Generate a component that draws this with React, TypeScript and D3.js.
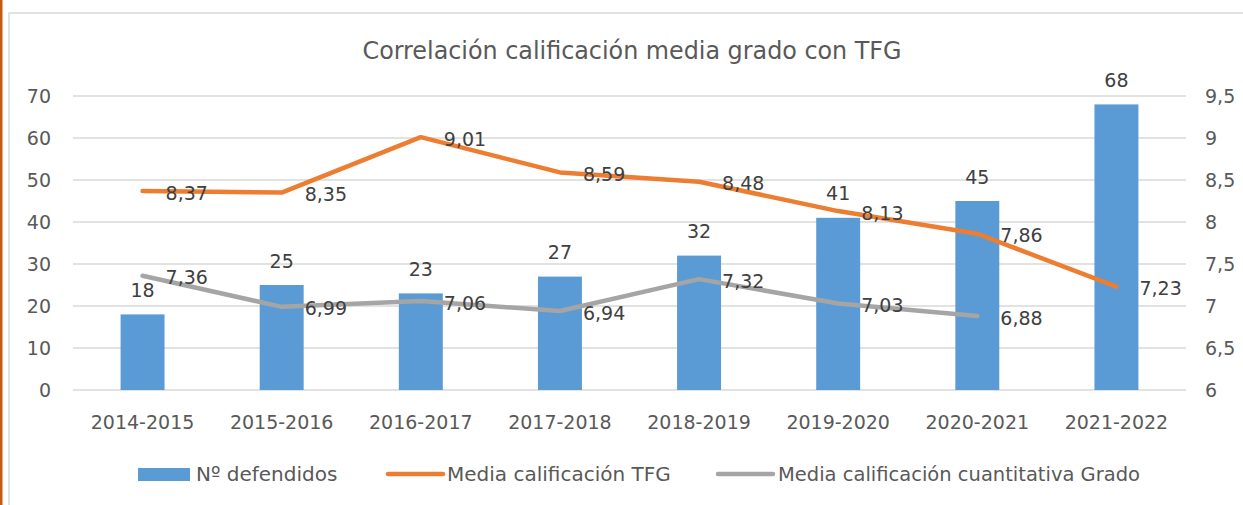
import React from "react";
import * as d3 from "d3";

const categories = ["2014-2015", "2015-2016", "2016-2017", "2017-2018", "2018-2019", "2019-2020", "2020-2021", "2021-2022"];
const defendidos = [18, 25, 23, 27, 32, 41, 45, 68];
const mediaTFG = [8.37, 8.35, 9.01, 8.59, 8.48, 8.13, 7.86, 7.23];
const mediaGrado = [7.36, 6.99, 7.06, 6.94, 7.32, 7.03, 6.88];
const leftTicks = [0, 10, 20, 30, 40, 50, 60, 70];
const rightTicks = [6, 6.5, 7, 7.5, 8, 8.5, 9, 9.5];
const title = "Correlación calificación media grado con TFG";
const legendLabels = ["Nº defendidos", "Media calificación TFG", "Media calificación cuantitativa Grado"];

const W = 1243, H = 505;
const FONT = "'DejaVu Sans', Verdana, sans-serif";
const fmt = (v: number) => String(v).replace(".", ",");

export default function App() {
  const plotL = 73, plotR = 1186, plotT = 96, plotB = 390;
  const x = d3.scaleBand<string>().domain(categories).range([plotL, plotR]).paddingInner(0.684).paddingOuter(0.342);
  const xc = (c: string) => (x(c) as number) + x.bandwidth() / 2;
  const yL = d3.scaleLinear().domain([0, 70]).range([plotB, plotT]);
  const yR = d3.scaleLinear().domain([6, 9.5]).range([plotB, plotT]);

  const lineTFG = d3.line<number>().x((_, i) => xc(categories[i])).y((d) => yR(d));
  const pathTFG = lineTFG(mediaTFG) as string;
  const pathGrado = lineTFG(mediaGrado) as string;

  return (
    <svg width={W} height={H} style={{ position: "absolute", left: 0, top: 0, display: "block" }} fontFamily={FONT}>
      <rect x={0} y={0} width={W} height={H} fill="#ffffff" />
      <rect x={9} y={13} width={W + 20} height={H + 20} fill="#ffffff" stroke="#d9d9d9" strokeWidth={1.5} />
      <rect x={0} y={0} width={2.5} height={H} fill="#c55a11" />

      <text x={632} y={59} textAnchor="middle" fontSize={24} fill="#595959" textLength={539} lengthAdjust="spacingAndGlyphs">{title}</text>

      {leftTicks.map((t) => (
        <g key={"g" + t}>
          <line x1={plotL} x2={plotR} y1={yL(t)} y2={yL(t)} stroke="#d9d9d9" strokeWidth={1.5} />
          <text x={51} y={yL(t)} dy="0.35em" textAnchor="end" fontSize={19} fill="#595959">{t}</text>
        </g>
      ))}
      {rightTicks.map((t) => (
        <text key={"r" + t} x={1205} y={yR(t)} dy="0.35em" textAnchor="start" fontSize={19} fill="#595959">{fmt(t)}</text>
      ))}
      {categories.map((c) => (
        <text key={"x" + c} x={xc(c)} y={422} dy="0.35em" textAnchor="middle" fontSize={19} fill="#595959">{c}</text>
      ))}

      {defendidos.map((v, i) => (
        <rect key={"b" + i} x={x(categories[i])} y={yL(v)} width={x.bandwidth()} height={plotB - yL(v)} fill="#5b9bd5" />
      ))}

      <path d={pathTFG} fill="none" stroke="#ed7d31" strokeWidth={4.5} strokeLinecap="round" strokeLinejoin="round" />
      <path d={pathGrado} fill="none" stroke="#a5a5a5" strokeWidth={4.5} strokeLinecap="round" strokeLinejoin="round" />

      {defendidos.map((v, i) => (
        <text key={"bl" + i} x={xc(categories[i])} y={yL(v) - 24} dy="0.35em" textAnchor="middle" fontSize={19} fill="#404040">{v}</text>
      ))}
      {mediaTFG.map((v, i) => (
        <text key={"ol" + i} x={xc(categories[i]) + 23} y={yR(v) + 2} dy="0.35em" textAnchor="start" fontSize={19} fill="#404040">{fmt(v)}</text>
      ))}
      {mediaGrado.map((v, i) => (
        <text key={"gl" + i} x={xc(categories[i]) + 23} y={yR(v) + 2} dy="0.35em" textAnchor="start" fontSize={19} fill="#404040">{fmt(v)}</text>
      ))}

      <g fontSize={20} fill="#595959">
        <rect x={138} y={468} width={52} height={13} fill="#5b9bd5" />
        <text x={196} y={481}>{legendLabels[0]}</text>
        <line x1={388} x2={443} y1={474} y2={474} stroke="#ed7d31" strokeWidth={4.5} strokeLinecap="round" />
        <text x={447} y={481}>{legendLabels[1]}</text>
        <line x1={718} x2={773} y1={474} y2={474} stroke="#a5a5a5" strokeWidth={4.5} strokeLinecap="round" />
        <text x={778} y={481} textLength={362} lengthAdjust="spacingAndGlyphs">{legendLabels[2]}</text>
      </g>
    </svg>
  );
}
